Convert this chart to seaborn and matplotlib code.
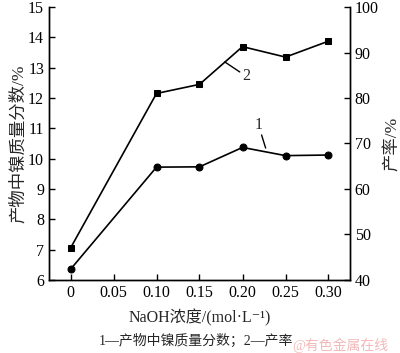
import pandas as pd
import numpy as np
import seaborn as sns
import matplotlib.pyplot as plt

# 数据
naoh = [0, 0.10, 0.15, 0.20, 0.25, 0.30]
ni_frac = [6.35, 9.72, 9.73, 10.37, 10.10, 10.12]     # 曲线1 产物中镍质量分数/%
yield_rate = [47.0, 81.0, 83.0, 91.3, 89.0, 92.5]     # 曲线2 产率/%
xticks = [0, 0.05, 0.10, 0.15, 0.20, 0.25, 0.30]
xticklabels = ['0', '0.05', '0.10', '0.15', '0.20', '0.25', '0.30']

sns.set_style('ticks')
plt.rcParams['font.family'] = ['Liberation Serif', 'Noto Sans CJK SC', 'DejaVu Sans']
plt.rcParams['axes.linewidth'] = 1.0

df = pd.DataFrame({'naoh': naoh, 'ni': ni_frac, 'rate': yield_rate})

fig = plt.figure(figsize=(4.0, 3.53), dpi=100)
ax = fig.add_axes([0.1225, 0.207, 0.7525, 0.773])
ax2 = ax.twinx()

sns.lineplot(data=df, x='naoh', y='ni', ax=ax, color='black', marker='o',
             markersize=5, markeredgecolor='black', linewidth=1.2)
sns.lineplot(data=df, x='naoh', y='rate', ax=ax2, color='black', marker='s',
             markersize=5, markeredgecolor='black', linewidth=1.2)

ax.set_xlim(-0.025, 0.325)
ax.set_ylim(6, 15)
ax2.set_ylim(40, 100)
ax.set_xticks(xticks)
ax.set_xticklabels(xticklabels)
ax.set_yticks(range(6, 16))
ax2.set_yticks(range(40, 101, 10))

for a in (ax, ax2):
    a.tick_params(direction='in', length=4, width=1, labelsize=11.5, colors='black')
    for s in a.spines.values():
        s.set_visible(True)
        s.set_color('black')
ax.spines['top'].set_visible(False)
ax2.spines['top'].set_visible(False)

ax.set_xlabel('NaOH浓度/(mol·L⁻¹)', fontsize=11.5, labelpad=6)
ax.set_ylabel('产物中镍质量分数/%', fontsize=12.5, labelpad=1)
ax2.set_ylabel('产率/%', fontsize=12.5, labelpad=4)

# 曲线标注（引线）
ax.plot([0.1794, 0.1968], [13.19, 12.86], color='black', lw=1)
ax.text(0.2045, 12.72, '2', fontsize=11.5, ha='center', va='center')
ax.plot([0.2222, 0.2269], [10.78, 10.35], color='black', lw=1)
ax.text(0.2188, 11.11, '1', fontsize=11.5, ha='center', va='center')

fig.text(0.49, 0.035, '1—产物中镍质量分数；2—产率', fontsize=10, ha='center', va='center')
fig.text(0.85, 0.022, '@有色金属在线', fontsize=10, ha='center', va='center',
         color='#f0a8a8', alpha=0.8)

fig.savefig('out.png', dpi=100)
